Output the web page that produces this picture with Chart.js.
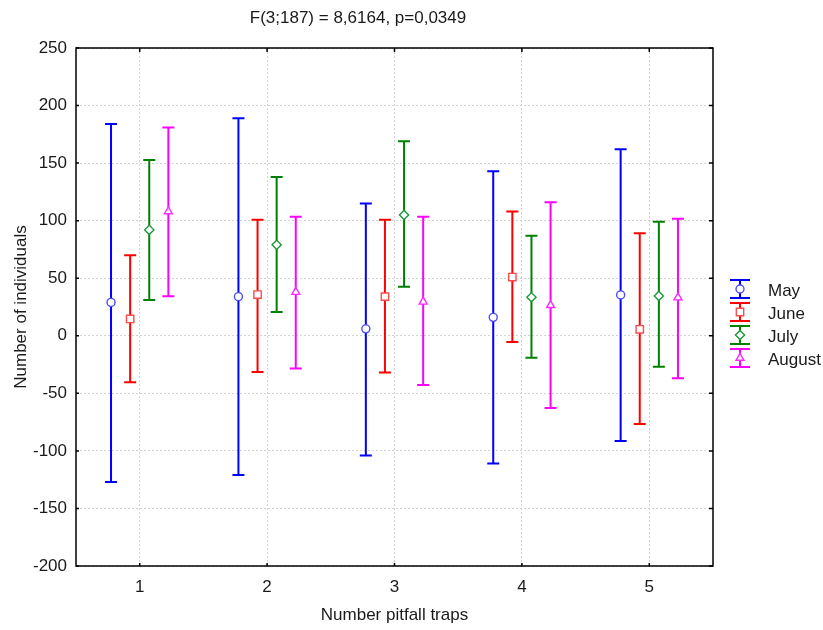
<!DOCTYPE html>
<html>
<head>
<meta charset="utf-8">
<script src="https://cdn.jsdelivr.net/npm/chart.js@4/dist/chart.umd.min.js"></script>
<style>
  html, body { margin: 0; padding: 0; background: #fff; }
  #wrap { width: 823px; height: 630px; }
</style>
</head>
<body>
<div id="wrap"><canvas id="chart"></canvas></div>
<script>
const traps = [1, 2, 3, 4, 5];
const months = ['May', 'June', 'July', 'August'];

// mean and confidence limits per trap
const mayMean = [29, 34, 6, 16, 35.5];
const mayLow = [-127, -121, -104, -111, -91.5];
const mayHigh = [184, 189, 115, 143, 162];
const juneMean = [14.6, 35.8, 34, 51, 5.6];
const juneLow = [-40.4, -31.5, -32, -5.4, -76.7];
const juneHigh = [70, 100.7, 100.7, 108, 89];
const julyMean = [92, 79, 105, 33.5, 34.6];
const julyLow = [31, 20.7, 42.5, -19, -27];
const julyHigh = [152.6, 138, 169, 87, 99];
const augMean = [108, 38, 29.5, 26.5, 33.2];
const augLow = [34.3, -28.5, -42.8, -62.8, -37];
const augHigh = [181, 103.3, 103.3, 116, 101.6];

const yTicks = [-200, -150, -100, -50, 0, 50, 100, 150, 200, 250];
const titleText = 'F(3;187) = 8,6164, p=0,0349';

const FONT = "'Liberation Sans', Arial, sans-serif";
const dodge = [-0.225, -0.075, 0.075, 0.225];
const colors = ['#0000ff', '#ff0000', '#008000', '#ff00ff'];
const markerColors = ['#4a4aff', '#ff4a4a', '#1a9a3a', '#ff2aff'];
const styles = ['circle', 'rect', 'rectRot', 'triangle'];
const radii = [4, 5.2, 4.6, 4.6];

const series = [
    [mayMean, mayLow, mayHigh],
    [juneMean, juneLow, juneHigh],
    [julyMean, julyLow, julyHigh],
    [augMean, augLow, augHigh],
];

const datasets = series.map((s, i) => ({
    label: months[i],
    data: traps.map((t, k) => ({ x: t + dodge[i], y: s[0][k], low: s[1][k], high: s[2][k] })),
    borderColor: colors[i],
    pointStyle: styles[i],
    pointRadius: radii[i],
    pointHoverRadius: radii[i],
    pointBorderWidth: 1.4,
    pointBorderColor: markerColors[i],
    pointBackgroundColor: '#ffffff',
    showLine: false,
}));

// whiskers with caps, under the markers
const errorBars = {
    id: 'errorBars',
    beforeDatasetsDraw(chart) {
        const { ctx, scales: { x, y } } = chart;
        chart.data.datasets.forEach((ds) => {
            ctx.save();
            ctx.strokeStyle = ds.borderColor;
            ctx.lineWidth = 2;
            ds.data.forEach((p) => {
                const px = x.getPixelForValue(p.x);
                const top = y.getPixelForValue(p.high);
                const bot = y.getPixelForValue(p.low);
                ctx.beginPath();
                ctx.moveTo(px, top); ctx.lineTo(px, bot);
                ctx.moveTo(px - 6, top); ctx.lineTo(px + 6, top);
                ctx.moveTo(px - 6, bot); ctx.lineTo(px + 6, bot);
                ctx.stroke();
            });
            ctx.restore();
        });
    },
};

// frame, inner ticks, title and legend
const decor = {
    id: 'decor',
    afterDraw(chart) {
        const { ctx, chartArea: a, scales: { x, y } } = chart;
        ctx.save();
        ctx.strokeStyle = '#000';
        ctx.lineWidth = 1.5;
        ctx.strokeRect(a.left, a.top, a.right - a.left, a.bottom - a.top);
        ctx.beginPath();
        yTicks.forEach((v) => {
            const py = y.getPixelForValue(v);
            ctx.moveTo(a.left, py); ctx.lineTo(a.left + 3, py);
            ctx.moveTo(a.right, py); ctx.lineTo(a.right - 4, py);
        });
        traps.forEach((v) => {
            const px = x.getPixelForValue(v);
            ctx.moveTo(px, a.bottom); ctx.lineTo(px, a.bottom - 3);
            ctx.moveTo(px, a.top); ctx.lineTo(px, a.top + 4);
        });
        ctx.stroke();

        ctx.fillStyle = '#1a1a1a';
        ctx.font = '17px ' + FONT;
        ctx.textAlign = 'center';
        ctx.textBaseline = 'middle';
        ctx.fillText(titleText, 358, 18);

        // legend
        ctx.textAlign = 'left';
        months.forEach((m, i) => {
            const y0 = 280 + i * 23;
            const cx = 740;
            ctx.strokeStyle = colors[i];
            ctx.lineWidth = 2;
            ctx.beginPath();
            ctx.moveTo(cx - 10, y0); ctx.lineTo(cx + 10, y0);
            ctx.moveTo(cx - 10, y0 + 18); ctx.lineTo(cx + 10, y0 + 18);
            ctx.moveTo(cx, y0); ctx.lineTo(cx, y0 + 18);
            ctx.stroke();
            ctx.fillStyle = '#fff';
            ctx.strokeStyle = markerColors[i];
            ctx.lineWidth = 1.4;
            Chart.helpers.drawPoint(ctx, { pointStyle: styles[i], radius: radii[i], rotation: 0, borderWidth: 1.4 }, cx, y0 + 9);
            ctx.fillStyle = '#1a1a1a';
            ctx.fillText(m, 768, y0 + 11);
        });
        ctx.restore();
    },
};

Chart.defaults.font.family = FONT;
Chart.defaults.font.size = 17;
Chart.defaults.color = '#1a1a1a';

new Chart(document.getElementById('chart'), {
    type: 'scatter',
    data: { datasets },
    options: {
        responsive: true,
        maintainAspectRatio: false,
        animation: false,
        layout: { padding: { top: 48, right: 110, left: 0, bottom: 0 } },
        plugins: {
            legend: { display: false },
            title: { display: false },
            tooltip: { enabled: false },
        },
        scales: {
            x: {
                type: 'linear',
                min: 0.5,
                max: 5.5,
                afterBuildTicks: (s) => { s.ticks = traps.map((v) => ({ value: v })); },
                afterFit: (s) => { s.height = 64; },
                grid: { color: '#d2d2d2', drawTicks: false },
                border: { display: false, dash: [2, 2] },
                ticks: { padding: 11 },
                title: { display: true, text: 'Number pitfall traps', padding: { top: 8 } },
            },
            y: {
                min: -200,
                max: 250,
                afterBuildTicks: (s) => { s.ticks = yTicks.map((v) => ({ value: v })); },
                afterFit: (s) => { s.width = 76; },
                grid: { color: '#d2d2d2', drawTicks: false },
                border: { display: false, dash: [2, 2] },
                ticks: { padding: 9 },
                title: { display: true, text: 'Number of individuals', padding: { top: 11, bottom: 0 } },
            },
        },
    },
    plugins: [errorBars, decor],
});
</script>
</body>
</html>
